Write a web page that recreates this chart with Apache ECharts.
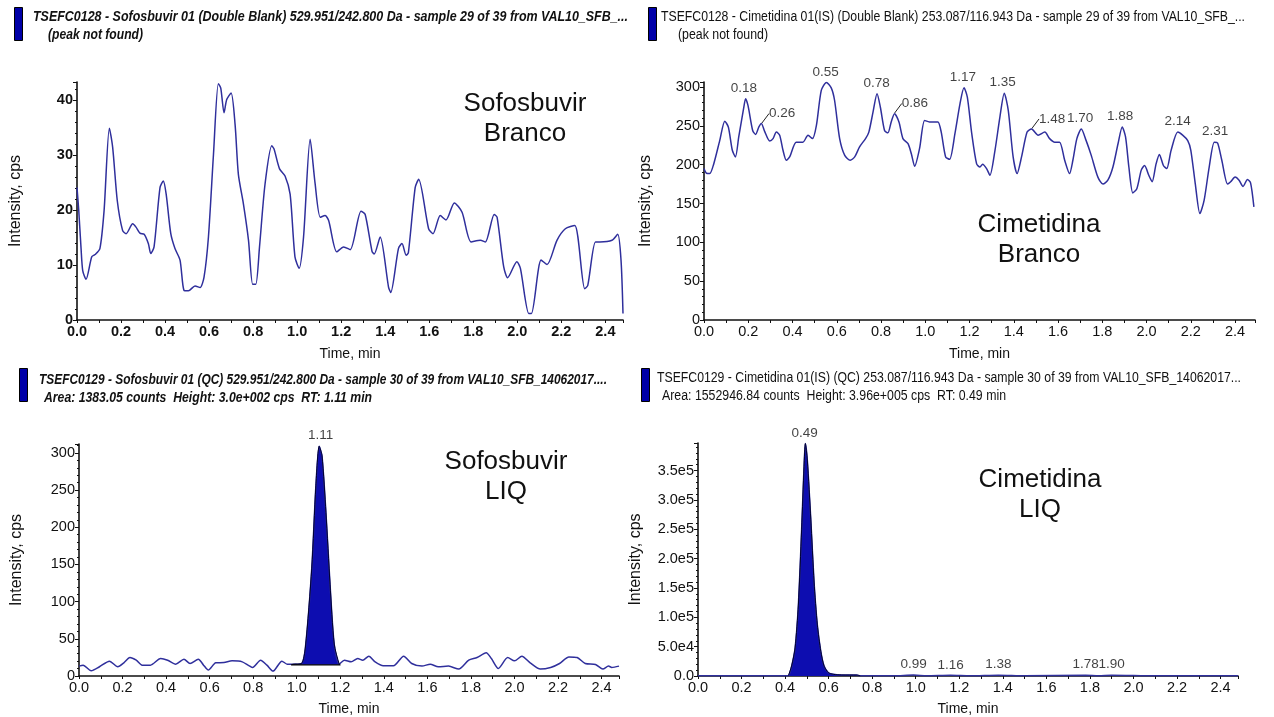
<!DOCTYPE html>
<html>
<head>
<meta charset="utf-8">
<script src="https://cdn.jsdelivr.net/npm/echarts@6/dist/echarts.min.js"></script>
<style>
html,body{margin:0;padding:0;background:#fff;}
#c{width:1274px;height:717px;}
</style>
</head>
<body>
<div id="c"></div>
<script>
// ---------- DATA ----------
// Panel 1: Sofosbuvir Branco (Double Blank)
const tlTime = [0, 0.008, 0.018, 0.026, 0.041, 0.067, 0.082, 0.104, 0.123, 0.147, 0.162, 0.183, 0.207, 0.223, 0.253, 0.268, 0.286, 0.305, 0.324, 0.335, 0.35, 0.377, 0.392, 0.405, 0.426, 0.445, 0.468, 0.486, 0.506, 0.536, 0.559, 0.577, 0.597, 0.62, 0.642, 0.653, 0.668, 0.68, 0.7, 0.718, 0.733, 0.756, 0.779, 0.798, 0.812, 0.829, 0.854, 0.885, 0.895, 0.92, 0.945, 0.968, 0.99, 1.009, 1.029, 1.059, 1.081, 1.105, 1.127, 1.143, 1.18, 1.211, 1.241, 1.29, 1.309, 1.34, 1.35, 1.377, 1.415, 1.425, 1.46, 1.476, 1.495, 1.505, 1.536, 1.552, 1.597, 1.617, 1.65, 1.676, 1.714, 1.749, 1.79, 1.832, 1.855, 1.895, 1.908, 1.938, 1.956, 1.998, 2.014, 2.052, 2.064, 2.108, 2.135, 2.18, 2.218, 2.261, 2.306, 2.32, 2.355, 2.375, 2.43, 2.456, 2.471, 2.48];
const tlValue = [24.1, 19.9, 13.3, 9.0, 7.4, 11.5, 11.9, 13.0, 19.9, 34.9, 31.4, 21.7, 16.3, 15.7, 17.5, 16.9, 15.8, 15.6, 13.9, 12.1, 13.3, 24.1, 25.3, 22.9, 15.7, 13.0, 10.9, 5.4, 5.3, 6.2, 5.9, 7.8, 15.1, 30.2, 43.0, 42.2, 37.7, 40.1, 41.3, 35.6, 26.5, 21.1, 14.5, 6.5, 6.5, 13.3, 24.7, 31.7, 31.1, 27.5, 26.2, 22.9, 11.5, 9.4, 15.1, 32.9, 25.0, 18.7, 19.0, 18.1, 12.4, 13.3, 12.8, 19.8, 19.2, 12.5, 12.0, 15.1, 6.0, 5.0, 13.0, 13.9, 11.8, 12.2, 24.1, 25.6, 16.6, 15.7, 19.0, 18.2, 21.3, 19.6, 14.2, 14.5, 14.2, 19.2, 18.7, 9.7, 7.7, 10.6, 9.4, 1.2, 1.2, 10.9, 10.1, 14.5, 16.6, 17.2, 5.7, 6.3, 14.2, 14.2, 14.5, 15.6, 10.9, 1.2];

// Panel 2: Cimetidina Branco (Double Blank)
const trTime = [0, 0.011, 0.026, 0.044, 0.071, 0.094, 0.11, 0.128, 0.142, 0.157, 0.18, 0.188, 0.199, 0.22, 0.233, 0.248, 0.259, 0.274, 0.297, 0.312, 0.327, 0.342, 0.357, 0.372, 0.387, 0.417, 0.447, 0.47, 0.49, 0.508, 0.53, 0.553, 0.575, 0.59, 0.613, 0.636, 0.661, 0.681, 0.703, 0.73, 0.745, 0.764, 0.782, 0.797, 0.816, 0.831, 0.846, 0.861, 0.881, 0.899, 0.922, 0.937, 0.952, 0.974, 0.997, 1.019, 1.034, 1.057, 1.072, 1.092, 1.11, 1.134, 1.157, 1.175, 1.19, 1.21, 1.232, 1.247, 1.259, 1.277, 1.292, 1.315, 1.337, 1.357, 1.375, 1.397, 1.415, 1.435, 1.46, 1.48, 1.51, 1.54, 1.562, 1.585, 1.607, 1.63, 1.652, 1.667, 1.685, 1.705, 1.727, 1.75, 1.78, 1.803, 1.825, 1.848, 1.871, 1.89, 1.905, 1.92, 1.938, 1.956, 1.976, 1.991, 2.01, 2.025, 2.043, 2.058, 2.076, 2.091, 2.111, 2.141, 2.163, 2.186, 2.2, 2.22, 2.241, 2.26, 2.283, 2.306, 2.321, 2.34, 2.366, 2.38, 2.4, 2.418, 2.436, 2.456, 2.47, 2.485];
const trValue = [195, 189, 188.6, 201, 231, 256, 248.6, 218.6, 210, 235.7, 274, 285, 276, 244, 239, 248.6, 253, 243, 230.6, 233.6, 242, 238, 218.6, 205.7, 210, 229, 229, 238, 233.6, 250.7, 295.7, 306, 299, 283, 233.6, 212, 205.7, 210, 223, 233.6, 242, 268, 291.4, 274, 244, 241, 255, 265.7, 255, 233.6, 227, 214, 198, 220.7, 257, 255, 255, 255, 242, 210, 207, 240, 278.6, 299, 287, 240, 201, 197, 200.6, 195, 186.4, 218.6, 261, 292, 270, 210, 188.6, 210, 242, 246, 238, 242, 233.6, 229, 229, 205.7, 188.6, 205.7, 233.6, 246, 231, 212, 184, 175, 180, 197, 227, 248.6, 235.7, 197, 163.7, 169, 193, 199, 186.4, 178, 201, 213, 199, 195, 218.6, 242, 238, 231, 218.6, 175.7, 137, 154, 197, 229, 228, 205.7, 175, 178, 184, 180, 172, 181, 176.6, 145.7];
const trPeakTimes = [0.18, 0.55, 0.78, 1.17, 1.35, 1.70, 1.88, 2.14, 2.31];
const trPeakValues = [285, 306, 291, 299, 292, 246, 249, 242, 229];
const trSidePeakTimes = [0.26, 0.86, 1.48];
const trSidePeakValues = [253, 266, 246];

// Panel 3: Sofosbuvir LIQ (QC)
const blTime = [0, 0.019, 0.056, 0.094, 0.14, 0.178, 0.206, 0.234, 0.263, 0.29, 0.328, 0.375, 0.407, 0.444, 0.482, 0.51, 0.548, 0.572, 0.594, 0.628, 0.666, 0.703, 0.75, 0.797, 0.834, 0.863, 0.891, 0.932, 0.956, 0.984, 1.022, 1.04, 1.069, 1.088, 1.103, 1.116, 1.134, 1.153, 1.172, 1.195, 1.219, 1.25, 1.28, 1.303, 1.331, 1.36, 1.397, 1.444, 1.491, 1.528, 1.575, 1.613, 1.65, 1.697, 1.744, 1.79, 1.828, 1.87, 1.894, 1.926, 1.969, 2.0, 2.034, 2.072, 2.119, 2.166, 2.207, 2.25, 2.288, 2.325, 2.372, 2.406, 2.432, 2.447, 2.48];
const blValue = [13.3, 14.6, 7, 12.4, 20, 12.4, 17.7, 24.8, 21.2, 14.6, 14.6, 23.5, 21.2, 15.9, 22.6, 16.8, 22.6, 14.6, 8, 17.7, 18.1, 20.4, 19, 11.5, 21.2, 14.6, 6.6, 20, 15.9, 15.9, 16.8, 39, 145, 256, 309, 296, 220, 123, 43, 16, 21.2, 19, 23.5, 21.2, 26.6, 19, 13.7, 13.7, 26.6, 16.8, 13.3, 15.9, 12.4, 13.3, 9.3, 21.2, 24.8, 31.4, 23.5, 10.2, 24.8, 20.4, 26.6, 17.7, 9.3, 11.5, 16.8, 25.7, 24.8, 16.8, 15.5, 9.3, 13.3, 11.5, 13.3];
const blPeakStart = 0.975, blPeakEnd = 1.2, blBaseline = 15;
const blPeakTimes = [1.11];
const blPeakValues = [309];

// Panel 4: Cimetidina LIQ (QC)
const brTime = [0, 0.2, 0.4, 0.415, 0.43, 0.446, 0.461, 0.476, 0.487, 0.493, 0.502, 0.518, 0.533, 0.548, 0.564, 0.579, 0.599, 0.622, 0.66, 0.729, 0.745, 0.9, 0.99, 1.05, 1.16, 1.25, 1.38, 1.5, 1.78, 1.84, 1.9, 2.1, 2.48];
const brValue = [300, 300, 300, 600, 16900, 47800, 120800, 250000, 356700, 396000, 368000, 266900, 160000, 87000, 42000, 16900, 5600, 2800, 1700, 1500, 400, 300, 1500, 300, 1200, 300, 1300, 300, 1400, 400, 1300, 300, 300];
const brPeakStart = 0.41, brPeakEnd = 0.745;
const brPeakTimes = [0.49, 0.99, 1.16, 1.38, 1.78, 1.90];
const brPeakValues = [396000, 1500, 1200, 1300, 1400, 1300];

// Texts
const headers = [
  ['TSEFC0128 - Sofosbuvir 01 (Double Blank) 529.951/242.800 Da - sample 29 of 39 from VAL10_SFB_...', '(peak not found)'],
  ['TSEFC0128 - Cimetidina 01(IS) (Double Blank) 253.087/116.943 Da - sample 29 of 39 from VAL10_SFB_...', '(peak not found)'],
  ['TSEFC0129 - Sofosbuvir 01 (QC) 529.951/242.800 Da - sample 30 of 39 from VAL10_SFB_14062017....', 'Area: 1383.05 counts  Height: 3.0e+002 cps  RT: 1.11 min'],
  ['TSEFC0129 - Cimetidina 01(IS) (QC) 253.087/116.943 Da - sample 30 of 39 from VAL10_SFB_14062017...', 'Area: 1552946.84 counts  Height: 3.96e+005 cps  RT: 0.49 min']
];
const panelNotes = ['Sofosbuvir\nBranco', 'Cimetidina\nBranco', 'Sofosbuvir\nLIQ', 'Cimetidina\nLIQ'];
const xName = 'Time, min';
const yName = 'Intensity, cps';

// ---------- CHART ----------
const SANS = '"Liberation Sans",Arial,sans-serif';
const LINE = '#2f2f9c';
const FILL = '#0d0db0';
const zip = (t, v) => t.map((x, i) => [x, v[i]]);

const chart = echarts.init(document.getElementById('c'), null, {renderer: 'canvas'});

const grids = [
  {left: 77, top: 82, width: 546, height: 238},
  {left: 704, top: 82, width: 551, height: 238},
  {left: 79, top: 444, width: 540, height: 235},
  {left: 698, top: 443, width: 540, height: 235}
];
const xMax = [2.48, 2.49, 2.48, 2.48];
const yMax = [43.3, 306.5, 312, 397000];
const yInt = [10, 50, 50, 50000];
const bold = [true, false, false, false];
const yNameGap = [53, 50, 54, 54];
const xNameGap = [27, 27, 26, 26];

function xAxis(i) {
  return {
    type: 'value', gridIndex: i, min: 0, max: xMax[i], interval: 0.1,
    name: xName, nameLocation: 'middle', nameGap: xNameGap[i],
    nameTextStyle: {fontFamily: SANS, fontSize: 14, color: '#111'},
    axisLine: {show: true, onZero: false, lineStyle: {color: '#111', width: 1.6}},
    axisTick: {show: true, length: 3, lineStyle: {color: '#111'}},
    splitLine: {show: false},
    axisLabel: {
      fontFamily: SANS, fontSize: 14.5, color: '#111', margin: 4,
      fontWeight: bold[i] ? 'bold' : 'normal',
      formatter: v => {
        const k = Math.round(v * 10);
        return (Math.abs(v * 10 - k) < 1e-6 && k % 2 === 0) ? (k / 10).toFixed(1) : '';
      }
    }
  };
}
function yAxis(i) {
  return {
    type: 'value', gridIndex: i, min: 0, max: yMax[i], interval: yInt[i],
    name: yName, nameLocation: 'middle', nameGap: yNameGap[i],
    nameTextStyle: {fontFamily: SANS, fontSize: 16, color: '#111'},
    axisLine: {show: true, lineStyle: {color: '#111', width: 1.6}},
    axisTick: {show: true, length: 4, lineStyle: {color: '#111'}},
    minorTick: {show: true, splitNumber: 5, length: 2, lineStyle: {color: '#111'}},
    splitLine: {show: false},
    axisLabel: {
      fontFamily: SANS, fontSize: 14.5, color: '#111', margin: 4,
      fontWeight: bold[i] ? 'bold' : 'normal',
      showMaxLabel: false,
      formatter: v => {
        if (Math.abs(v / yInt[i] - Math.round(v / yInt[i])) > 1e-6) return '';
        if (i === 3) return v === 0 ? '0.0' : v.toExponential(1).replace('e+', 'e');
        return String(v);
      }
    }
  };
}

const lineBase = (i, data) => ({
  type: 'line', xAxisIndex: i, yAxisIndex: i, data,
  symbol: 'none', smooth: 0.25, animation: false,
  lineStyle: {color: LINE, width: 1.5}
});

const peakLabel = (pos, dist) => ({
  show: true, position: pos, distance: dist, fontFamily: SANS, fontSize: 13.5, color: '#111',
  formatter: p => p.value[0].toFixed(2)
});
const labelSeries = (i, times, values, extra) => Object.assign({
  type: 'scatter', xAxisIndex: i, yAxisIndex: i,
  data: zip(times, values), symbolSize: 1, animation: false,
  itemStyle: {color: 'rgba(0,0,0,0)'},
  label: peakLabel('top', 3)
}, extra || {});

const blPeak = zip(blTime, blValue).filter(p => p[0] >= blPeakStart && p[0] <= blPeakEnd);
blPeak.unshift([blPeakStart, blBaseline]);
blPeak.push([blPeakEnd, blBaseline]);
const brPeak = zip(brTime, brValue).filter(p => p[0] >= brPeakStart && p[0] <= brPeakEnd);

const series = [
  lineBase(0, zip(tlTime, tlValue)),
  lineBase(1, zip(trTime, trValue)),
  labelSeries(1, trPeakTimes, trPeakValues),
  labelSeries(1, trSidePeakTimes, trSidePeakValues, {
    label: peakLabel('right', 2),
    labelLayout: {dx: 5, dy: -10},
    labelLine: {show: true, lineStyle: {color: '#222', width: 1}}
  }),
  lineBase(2, zip(blTime, blValue)),
  {
    type: 'line', xAxisIndex: 2, yAxisIndex: 2, data: blPeak, symbol: 'none', smooth: 0.25,
    animation: false, z: 3,
    lineStyle: {color: '#000030', width: 1},
    areaStyle: {color: FILL, opacity: 1, origin: blBaseline}
  },
  {
    type: 'line', xAxisIndex: 2, yAxisIndex: 2, data: [[blPeakStart, blBaseline], [blPeakEnd, blBaseline]],
    symbol: 'none', animation: false, z: 4, lineStyle: {color: '#000', width: 1.2}
  },
  labelSeries(2, blPeakTimes, blPeakValues, {label: peakLabel('top', 3)}),
  lineBase(3, zip(brTime, brValue)),
  {
    type: 'line', xAxisIndex: 3, yAxisIndex: 3, data: brPeak, symbol: 'none', smooth: 0.25,
    animation: false, z: 3,
    lineStyle: {color: '#000030', width: 1},
    areaStyle: {color: FILL, opacity: 1, origin: 0}
  },
  labelSeries(3, brPeakTimes, brPeakValues)
];

// header lines: [x, yCenter, targetWidth]
const hdrPos = [
  [[33, 17, 595], [48, 35, 95]],
  [[661, 17, 584], [678, 35, 90]],
  [[39, 380, 568], [44, 398, 328]],
  [[657, 378, 584], [662, 396, 344]]
];
const measureCtx = document.createElement('canvas').getContext('2d');
const graphic = [];
headers.forEach((h, i) => {
  const isBold = (i === 0 || i === 2);
  const font = (isBold ? 'italic bold ' : '') + '14px "Liberation Sans"';
  h.forEach((txt, j) => {
    measureCtx.font = font;
    const w = measureCtx.measureText(txt).width;
    const p = hdrPos[i][j];
    graphic.push({
      type: 'text', x: p[0], y: p[1], scaleX: p[2] / w, scaleY: 1,
      style: {text: txt, font: font, fill: '#111', align: 'left', verticalAlign: 'middle'}
    });
  });
});

const iconPos = [[14, 7], [648, 7], [19, 368], [641, 368]];
const notePos = [[525, 89], [1039, 210], [506, 447], [1040, 465]];
iconPos.forEach(p => graphic.push({
  type: 'rect', left: p[0], top: p[1], shape: {width: 8, height: 33},
  style: {fill: '#0000a8', stroke: '#000', lineWidth: 1}
}));
panelNotes.forEach((t, i) => graphic.push({
  type: 'text', x: notePos[i][0], y: notePos[i][1],
  style: {text: t, align: 'center', verticalAlign: 'top', fontFamily: SANS, fontSize: 26, lineHeight: 30, fill: '#111'}
}));

chart.setOption({
  backgroundColor: '#fff',
  animation: false,
  grid: grids,
  xAxis: [0, 1, 2, 3].map(xAxis),
  yAxis: [0, 1, 2, 3].map(yAxis),
  series,
  graphic
});
</script>
</body>
</html>
